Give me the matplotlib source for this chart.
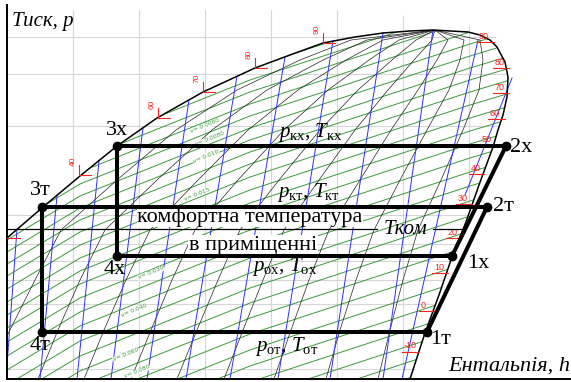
import matplotlib
matplotlib.use("Agg")
import matplotlib.pyplot as plt
import numpy as np
from matplotlib.patches import Polygon

plt.rcParams["font.family"] = ["Liberation Serif", "DejaVu Serif"]
plt.rcParams["mathtext.fontset"] = "custom"
plt.rcParams["mathtext.rm"] = "Liberation Serif"
plt.rcParams["mathtext.it"] = "Liberation Serif:italic"

W, H = 571, 382

# Chart coordinates: enthalpy to the right, pressure level downwards
# (log-pressure already folded into the vertical level).

# saturation dome: liquid branch up to the critical point, then vapour branch
DOME_H = [0, 7, 43, 80, 117, 157, 203, 255, 290, 323, 355, 383, 410, 433,
          468, 480, 490, 497, 505, 508, 507, 503, 498, 493, 479, 466, 452,
          439, 425, 410]
DOME_P = [244, 238, 207, 176, 146, 118, 92, 68, 55, 43, 37, 33, 31, 30,
          32, 35, 40, 47, 62, 77, 97, 115, 130, 147, 185, 222, 257,
          295, 333, 379]

# region that carries the background grid
GRID_EDGE_H = [0, 385, 430, 490, 498, 505, 508, 507, 503, 498, 493, 479,
               466, 452, 439, 425, 410, 0]
GRID_EDGE_P = [10, 10, 24, 28, 40, 62, 77, 97, 115, 130, 147, 185,
               222, 257, 295, 333, 390, 390]
GRID_H = [73, 139, 205, 271, 337, 403, 469]
GRID_P = [37, 74, 126, 215, 244, 261, 280, 304, 369]

# isochores (green): level at h=250 and the common bend of the family
GREEN_LEVEL = [56, 68, 80, 92, 104, 116, 128, 140, 152, 164, 177, 190, 203,
               216, 230, 244, 258, 273, 288, 303, 318, 334, 350, 366, 382,
               398, 414, 430, 446, 462]
GREEN_BEND_H = [-20, 7, 80, 250, 470, 560]
GREEN_BEND_DP = [128, 112, 68, 0, -72, -99]

ISOCHORE_LABELS = ["v= 0.0060", "v= 0.0080", "v= 0.010", "v= 0.015",
                   "v= 0.030", "v= 0.040", "v= 0.060", "v= 0.080"]
ISOCHORE_LABEL_H = [205, 210, 206, 197, 151, 134, 126, 137]
ISOCHORE_LABEL_P = [126, 139, 156, 194, 273, 311, 355, 372]

# dryness-fraction lines (thin black), h at each pressure level
QUALITY_P = [30, 40, 60, 90, 130, 180, 230, 280, 330, 379]
QUALITY_H = [
    [435, 351, 300, 237, 176, 117, 61, 35, 10, -15],
    [435, 367, 323, 267, 212, 157, 105, 80, 58, 38],
    [435, 383, 346, 298, 248, 198, 150, 126, 104, 84],
    [435, 399, 369, 328, 284, 238, 195, 172, 151, 131],
    [435, 416, 392, 358, 320, 279, 240, 218, 197, 177],
    [435, 432, 414, 388, 355, 319, 284, 263, 243, 224],
    [435, 448, 437, 418, 391, 360, 329, 309, 291, 274],
    [435, 464, 460, 449, 427, 400, 374, 356, 340, 326],
    [435, 480, 483, 479, 463, 441, 418, 403, 390, 378],
]

# isentropes (blue): upper and lower ends
BLUE_H0 = [17, 57, 99, 143, 189, 237, 285, 333, 383, 433, 478, 512]
BLUE_P0 = [229, 196, 161, 128, 100, 76, 57, 41, 33, 30, 40, 78]
BLUE_H1 = [6, 40, 77, 111, 147, 186, 230, 278, 330, 383, 402, 465]
BLUE_P1 = [379, 379, 379, 379, 379, 379, 379, 379, 379, 379, 379, 195]

# saturation temperatures, liquid side (corner of the red mark)
LIQ_T = ["40", "60", "70", "80", "90"]
LIQ_T_H = [79, 158, 203, 255, 323]
LIQ_T_P = [175, 118, 92, 68, 43]

# saturation temperatures, vapour side
VAP_T = ["90", "80", "70", "60", "50", "40", "30", "20", "10", "0", "-10"]
VAP_T_H = [479, 495, 495, 490, 482, 471, 458, 448, 434, 421, 404]
VAP_T_P = [36, 62, 87, 113, 139, 168, 198, 232, 267, 305, 346]
VAP_MARK_H1 = [494, 509, 509, 505, 497, 484, 472, 461, 448, 434, 419]

# refrigeration cycle (х) and heat-pump cycle (т)
CYCLE_X = ["1х", "2х", "3х", "4х"]
CYCLE_X_H = [452, 506, 117, 117]
CYCLE_X_P = [256, 146, 146, 256]
CYCLE_T = ["1т", "2т", "3т", "4т"]
CYCLE_T_H = [427, 487, 42, 42]
CYCLE_T_P = [332, 207, 207, 332]
POINT_LABEL_H = {"1х": 478, "2х": 521, "3х": 117, "4х": 115,
                 "1т": 441, "2т": 503, "3т": 40, "4т": 40}
POINT_LABEL_P = {"1х": 263, "2х": 147, "3х": 130, "4х": 270,
                 "1т": 339, "2т": 206, "3т": 190, "4т": 346}

STATE_LABELS = [r"$p_{\mathrm{кх}}$, $T_{\mathrm{кх}}$",
                r"$p_{\mathrm{кт}}$, $T_{\mathrm{кт}}$",
                r"$p_{\mathrm{ох}}$, $T_{\mathrm{ох}}$",
                r"$p_{\mathrm{от}}$, $T_{\mathrm{от}}$"]
STATE_LABEL_H = [310, 308, 285, 287]
STATE_LABEL_P = [132, 192, 266, 347]

# room comfort temperature line
ROOM_H = [[7, 377], [433, 462]]
ROOM_P = 229

GREEN = "#3a9a3a"
BLUE = "#2f2fff"
RED = "#ff2020"

fig = plt.figure(figsize=(W / 100, H / 100), dpi=100)
ax = fig.add_axes([7 / W, 3 / H, (W - 7) / W, 374 / H])
ax.set_xlim(7, W)
ax.set_ylim(379, 5)
ax.set_xticks([])
ax.set_yticks([])
for side in ("top", "right"):
    ax.spines[side].set_visible(False)
for side in ("left", "bottom"):
    ax.spines[side].set_linewidth(1.4)

grid_clip = Polygon(np.column_stack([GRID_EDGE_H, GRID_EDGE_P]),
                    closed=True, transform=ax.transData)
dome_clip = Polygon(np.column_stack([DOME_H + [410, 0], DOME_P + [400, 400]]),
                    closed=True, transform=ax.transData)

gv = ax.vlines(GRID_H, 0, 400, color="#d6d6d6", lw=0.8, zorder=0)
gh = ax.hlines(GRID_P, 0, 600, color="#d6d6d6", lw=0.8, zorder=0)
gv.set_clip_path(grid_clip)
gh.set_clip_path(grid_clip)

for level in GREEN_LEVEL:
    line, = ax.plot(GREEN_BEND_H, [level + d for d in GREEN_BEND_DP],
                    color=GREEN, lw=0.7, zorder=1)
    line.set_clip_path(dome_clip)

for hs in QUALITY_H:
    line, = ax.plot(hs, QUALITY_P, color="#222222", lw=0.5, zorder=1.5)
    line.set_clip_path(dome_clip)

for h0, p0, h1, p1 in zip(BLUE_H0, BLUE_P0, BLUE_H1, BLUE_P1):
    ax.plot([h0, h1], [p0, p1], color=BLUE, lw=0.7, zorder=2)

for txt, h, p in zip(ISOCHORE_LABELS, ISOCHORE_LABEL_H, ISOCHORE_LABEL_P):
    ax.text(h, p, txt, color=GREEN, fontsize=4.3, rotation=22,
            family="DejaVu Sans", ha="center", va="center", zorder=2.5,
            bbox=dict(fc="white", ec="none", pad=0.2))

ax.plot(DOME_H, DOME_P, color="black", lw=1.1, zorder=3)

# red temperature marks on the saturation curve
for t, h, p in zip(LIQ_T, LIQ_T_H, LIQ_T_P):
    ax.plot([h, h, h + 12], [p - 10, p, p], color=RED, lw=0.8, zorder=3)
    ax.text(h - 6, p - 14, t, color=RED, fontsize=6, rotation=90,
            family="Liberation Sans", ha="center", va="center", zorder=3)
ax.plot([7, 20], [238, 238], color=RED, lw=0.8, zorder=3)
for t, h, p, h1 in zip(VAP_T, VAP_T_H, VAP_T_P, VAP_MARK_H1):
    ax.text(h, p, t, color=RED, fontsize=6.5, family="Liberation Sans",
            ha="left", va="center", zorder=3)
    ax.plot([h - 2, h1], [p + 6, p + 6], color=RED, lw=0.8, zorder=3)

# comfort temperature line with its notes
for seg in ROOM_H:
    ax.plot(seg, [ROOM_P, ROOM_P], color="black", lw=0.9, zorder=6)
ax.text(250, 217, "комфортна температура", fontsize=16, ha="center",
        va="center", zorder=5, bbox=dict(fc="white", ec="none", pad=0.5))
ax.text(253, 245, "в приміщенні", fontsize=16, ha="center", va="center",
        zorder=5, bbox=dict(fc="white", ec="none", pad=0.5))
ax.text(406, 229, "Tком", fontsize=15, style="italic", ha="center",
        va="center", zorder=6)

# the two cycles
for hs, ps in ((CYCLE_X_H, CYCLE_X_P), (CYCLE_T_H, CYCLE_T_P)):
    ax.plot(hs + hs[:1], ps + ps[:1], color="black", lw=2.9,
            solid_joinstyle="miter", zorder=7, clip_on=False)
    ax.plot(hs, ps, "o", color="black", ms=6, zorder=8, clip_on=False)
for name in CYCLE_X + CYCLE_T:
    ax.text(POINT_LABEL_H[name], POINT_LABEL_P[name], name, fontsize=16,
            ha="center", va="center", zorder=9)

for txt, h, p in zip(STATE_LABELS, STATE_LABEL_H, STATE_LABEL_P):
    ax.text(h, p, txt, fontsize=15, ha="center", va="center", zorder=9)

ax.text(12, 21, "Тиск, p", fontsize=15, style="italic", ha="left",
        va="center", zorder=9)
ax.text(570, 366, "Ентальпія, h", fontsize=16, style="italic", ha="right",
        va="center", zorder=9)

fig.savefig("out.png", dpi=100)
